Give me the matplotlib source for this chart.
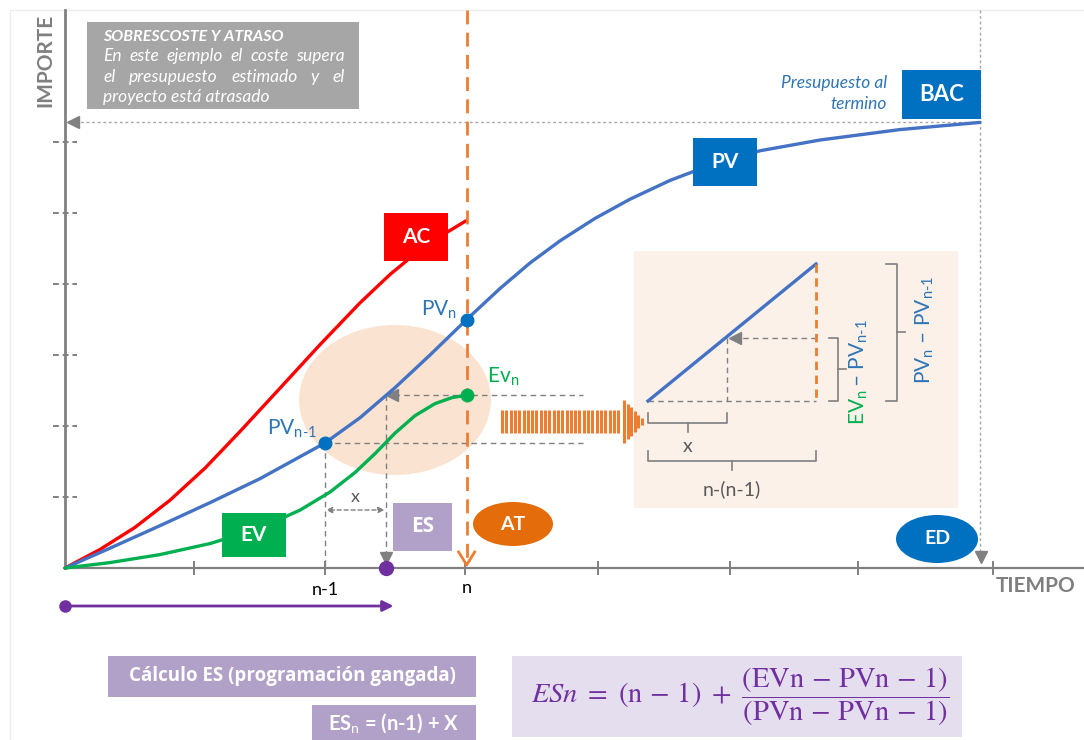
"""Earned schedule (ES) diagram: PV / EV / AC curves with the ES construction."""
import matplotlib

matplotlib.use("Agg")
import matplotlib.pyplot as plt
import numpy as np
from matplotlib.patches import Ellipse, Rectangle
from matplotlib.transforms import Affine2D

plt.rcParams["font.family"] = ["Lato", "DejaVu Sans"]
plt.rcParams["mathtext.fontset"] = "custom"
plt.rcParams["mathtext.rm"] = "Lato"
plt.rcParams["mathtext.it"] = "Lato:italic"
plt.rcParams["mathtext.bf"] = "Lato:bold"

# curves (time in periods, amount in tick units)
AC_T = [0, 0.263, 0.526, 0.789, 1.053, 1.316, 1.617, 1.917, 2.218, 2.444, 2.632,
        2.820, 3.015]
AC_V = [0, 0.261, 0.572, 0.954, 1.407, 1.923, 2.534, 3.145, 3.734, 4.135, 4.424,
        4.670, 4.890]
PV_T = [0, 0.338, 0.714, 1.090, 1.466, 1.955, 2.218, 2.481, 2.744, 3.020, 3.271,
        3.496, 3.722, 3.985, 4.248, 4.549, 4.850, 5.226, 5.677, 6.278, 6.880]
PV_V = [0, 0.279, 0.596, 0.920, 1.258, 1.761, 2.116, 2.539, 2.999, 3.500, 3.937,
        4.296, 4.608, 4.924, 5.194, 5.459, 5.673, 5.877, 6.028, 6.175, 6.276]
EV_T = [0, 0.338, 0.714, 1.090, 1.466, 1.767, 1.992, 2.180, 2.331, 2.481, 2.632,
        2.782, 2.910, 3.020]
EV_V = [0, 0.076, 0.189, 0.344, 0.562, 0.815, 1.069, 1.344, 1.611, 1.899, 2.146,
        2.315, 2.400, 2.435]

T_PREV, T_N, T_ES, T_END = 1.955, 3.02, 2.41, 6.88
PV_PREV, PV_N, EV_N, BAC = 1.761, 3.50, 2.435, 6.276
TIME_TICKS = [0.97, 1.955, 3.01, 4.01, 5.0, 5.96, 6.98]
VALUE_TICKS = [1, 2, 3, 4, 5, 6]

X0, Y0, SX, SY = 65, 568, 133, 71  # origin in pixels, pixels per unit

RED, BLUE, BLUE_LINE, GREEN = "#FF0000", "#0070C0", "#4472C4", "#00B050"
ORANGE, PURPLE, LILAC, GRAY = "#ED7D31", "#7030A0", "#B1A0C7", "#808080"
LBL_BLUE = "#2E75B6"
SUB_N1 = r"$_{\mathrm{n}\text{-}\mathrm{1}}$"


def px(t, v):
    return X0 + SX * t, Y0 - SY * v


def box(ax, x0, y0, x1, y1, fc, text=None, fs=15, z=6, **kw):
    ax.add_patch(Rectangle((x0, y0), x1 - x0, y1 - y0, fc=fc, ec="none", zorder=z))
    if text:
        ax.text((x0 + x1) / 2, (y0 + y1) / 2, text, color="white", fontsize=fs,
                fontweight="bold", ha="center", va="center", zorder=z + 1, **kw)


def dashed(ax, xs, ys, **kw):
    ax.plot(xs, ys, color=kw.pop("color", GRAY), lw=kw.pop("lw", 1),
            ls=(0, (4, 3)), zorder=kw.pop("zorder", 3), **kw)


def justify(ax, renderer, line, x0, x1, y, **kw):
    ts = [ax.text(x0, y, w, **kw) for w in line.split()]
    widths = [t.get_window_extent(renderer).width for t in ts]
    gap = (x1 - x0 - sum(widths)) / (len(ts) - 1)
    x = x0
    for t, w in zip(ts, widths):
        t.set_x(x)
        x += w + gap


fig = plt.figure(figsize=(10.84, 7.40), dpi=100)
ax = fig.add_axes([0, 0, 1, 1])
ax.set_xlim(0, 1084)
ax.set_ylim(740, 0)
ax.axis("off")
data = Affine2D().scale(SX, -SY).translate(X0, Y0) + ax.transData
renderer = fig.canvas.get_renderer()

# frame
ax.plot([10, 10, 1084], [740, 10, 10], color="#EDEDED", lw=1, zorder=0)

# background shapes
ax.add_patch(Rectangle((634, 251), 324, 257, fc="#FCF1E8", ec="none", zorder=1))
ax.add_patch(Ellipse((395, 400), 192, 150, fc="#FBE3D1", ec="none", zorder=1))

# axes
ax.plot([X0, X0], [10, Y0], color=GRAY, lw=2, zorder=4)
ax.plot([X0, 1084], [Y0, Y0], color=GRAY, lw=1.6, zorder=4)
for t in TIME_TICKS:
    x, _ = px(t, 0)
    ax.plot([x, x], [Y0 - 6, Y0 + 6], color=GRAY, lw=1.4, zorder=4)
for v in VALUE_TICKS:
    _, y = px(0, v)
    ax.plot([X0 - 12, X0 + 12], [y, y], color=GRAY, lw=1.4, ls=(0, (3, 2)), zorder=4)
ax.text(45, 60, "IMPORTE", rotation=90, color="#7F7F7F", fontsize=15,
        fontweight="bold", ha="center", va="center")
ax.text(1036, 586, "TIEMPO", color="#7F7F7F", fontsize=15, fontweight="bold",
        ha="center", va="center")

# BAC guide lines
x_end, y_bac = px(T_END, BAC)
ax.plot([x_end, x_end], [10, Y0 - 10], color="#A6A6A6", lw=1, ls=(0, (2, 2)), zorder=2)
ax.plot([x_end + 1], [Y0 - 11], marker="v", ms=9, color=GRAY, zorder=4)
ax.plot([X0 + 10, x_end], [y_bac, y_bac], color="#A6A6A6", lw=1, ls=(0, (2, 2)), zorder=2)
ax.plot([X0 + 8], [y_bac], marker="<", ms=9, color=GRAY, zorder=4)

# curves
for ts, vs, c in ((AC_T, AC_V, RED), (PV_T, PV_V, BLUE_LINE), (EV_T, EV_V, GREEN)):
    ax.plot(ts, vs, color=c, lw=2.4, transform=data, zorder=5,
            solid_joinstyle="round", solid_capstyle="round")

# ES construction
xp, yp = px(T_PREV, PV_PREV)
xn, ypn = px(T_N, PV_N)
_, yev = px(T_N, EV_N)
xes, _ = px(T_ES, 0)
dashed(ax, [xp, xp], [yp, Y0])
dashed(ax, [xp, 583], [yp, yp])
dashed(ax, [xes + 8, 583], [yev, yev])
ax.plot([xes + 6], [yev], marker="<", ms=9, color=GRAY, zorder=4)
dashed(ax, [xes, xes], [yev, Y0 - 14])
ax.plot([xes], [Y0 - 10], marker="v", ms=9, color=GRAY, zorder=4)
ax.annotate("", xy=(xp + 1, 510), xytext=(xes - 1, 510),
            arrowprops=dict(arrowstyle="<|-|>", color=GRAY, lw=1, ls=(0, (3, 2)),
                            mutation_scale=9, shrinkA=0, shrinkB=0), zorder=4)
ax.text((xp + xes) / 2, 497, "x", color="#595959", fontsize=13, ha="center", va="center")

# orange status-date line
ax.plot([xn, xn], [10, Y0 - 4], color=ORANGE, lw=2, ls=(0, (5, 3)), zorder=6)
ax.plot([xn - 8, xn, xn + 8], [Y0 - 16, Y0 - 3, Y0 - 16], color=ORANGE, lw=2, zorder=6)

# points
ax.plot([T_PREV, T_N], [PV_PREV, PV_N], "o", ms=9, color=BLUE, transform=data, zorder=7)
ax.plot([T_N], [EV_N], "o", ms=9, color=GREEN, transform=data, zorder=7)
ax.text(xn - 10, ypn - 10, r"PV$_{\mathrm{n}}$", color=LBL_BLUE, fontsize=15,
        ha="right", va="center", zorder=7)
ax.text(xn + 20, yev - 18, r"Ev$_{\mathrm{n}}$", color=GREEN, fontsize=15,
        ha="left", va="center", zorder=7)
ax.text(xp - 8, yp - 14, "PV" + SUB_N1, color=LBL_BLUE, fontsize=15,
        ha="right", va="center", zorder=7)
ax.plot([xes], [Y0], "o", ms=10, color=PURPLE, zorder=7)
ax.annotate("", xy=(xes + 8, 606), xytext=(X0, 606),
            arrowprops=dict(arrowstyle="-|>", color=PURPLE, lw=2, mutation_scale=16,
                            shrinkA=0, shrinkB=0))
ax.plot([X0], [606], "o", ms=8, color=PURPLE, zorder=7)

# label boxes
box(ax, 384, 213, 448, 261, RED, "AC")
box(ax, 222, 513, 286, 557, GREEN, "EV")
box(ax, 693, 138, 757, 186, BLUE, "PV")
box(ax, 902, 70, 981, 119, BLUE, "BAC", fs=16)
box(ax, 393, 503, 452, 551, LILAC, "ES", fontfamily="Open Sans")
ax.add_patch(Ellipse((513, 524), 80, 44, fc="#E46C0A", ec="none", zorder=6))
ax.text(513, 524, "AT", color="white", fontsize=14, fontweight="bold",
        ha="center", va="center", zorder=7)
ax.add_patch(Ellipse((937, 539), 82, 48, fc=BLUE, ec="none", zorder=6))
ax.text(937, 539, "ED", color="white", fontsize=14, fontweight="bold",
        ha="center", va="center", zorder=7)
ax.text(887, 83, "Presupuesto al", color=LBL_BLUE, fontsize=12.5, style="italic",
        ha="right", va="center")
ax.text(887, 104, "termino", color=LBL_BLUE, fontsize=12.5, style="italic",
        ha="right", va="center")

# grey note
box(ax, 87, 22, 359, 109, "#A6A6A6")
note = dict(color="white", fontsize=12.5, style="italic", va="center", zorder=7)
ax.text(103, 37, "SOBRESCOSTE Y ATRASO", color="white", fontsize=11.5,
        fontweight="bold", style="italic", va="center", zorder=7)
justify(ax, renderer, "En este ejemplo el coste supera", 103, 345, 56, **note)
justify(ax, renderer, "el presupuesto estimado y el", 103, 345, 77, **note)
ax.text(103, 97, "proyecto está atrasado", **note)

# striped arrow
ax.vlines(np.arange(502, 622, 4.3), 410, 433, color=ORANGE, lw=2.2, zorder=3)
for x in np.arange(624, 645, 3.6):
    h = 21.5 * (645 - x) / 21
    ax.vlines(x, 421.5 - h, 421.5 + h, color=ORANGE, lw=2.2, zorder=3)

# inset triangle
ax.plot([648, 816], [401, 264], color=BLUE_LINE, lw=2.4, zorder=4)
ax.plot([816, 816], [264, 401], color=ORANGE, lw=2, ls=(0, (3, 2)), zorder=4)
dashed(ax, [648, 816], [401, 401])
dashed(ax, [733, 816], [338, 338])
ax.plot([735], [338], marker="<", ms=9, color=GRAY, zorder=5)
dashed(ax, [727, 727], [338, 401])
bc = "#7F7F7F"
ax.plot([648, 648, 727, 727], [413, 423, 423, 413], color=bc, lw=1.2, zorder=4)
ax.plot([688, 688], [423, 432], color=bc, lw=1.2, zorder=4)
ax.text(688, 447, "x", color="#595959", fontsize=14, ha="center", va="center")
ax.plot([648, 648, 816, 816], [451, 461, 461, 451], color=bc, lw=1.2, zorder=4)
ax.plot([732, 732], [461, 470], color=bc, lw=1.2, zorder=4)
ax.text(732, 489, "n-(n-1)", color="#595959", fontsize=14, ha="center", va="center")
ax.plot([829, 838, 838, 829], [338, 338, 401, 401], color=bc, lw=1.2, zorder=4)
ax.plot([838, 846], [369, 369], color=bc, lw=1.2, zorder=4)
ax.plot([886, 897, 897, 886], [264, 264, 401, 401], color=bc, lw=1.2, zorder=4)
ax.plot([897, 905], [332, 332], color=bc, lw=1.2, zorder=4)
ax.text(859, 425, r"EV$_{\mathrm{n}}$", color=GREEN, fontsize=15, rotation=90,
        rotation_mode="anchor", ha="left", va="center", zorder=5)
ax.text(859, 392, " – PV" + SUB_N1, color=LBL_BLUE, fontsize=15, rotation=90,
        rotation_mode="anchor", ha="left", va="center", zorder=5)
ax.text(925, 384, r"PV$_{\mathrm{n}}$ – PV" + SUB_N1, color=LBL_BLUE, fontsize=15,
        rotation=90, rotation_mode="anchor", ha="left", va="center", zorder=5)

# formulas
box(ax, 108, 656, 476, 697, LILAC, "Cálculo ES (programación gangada)", fs=13.5,
    fontfamily="Open Sans", fontstretch="condensed")
box(ax, 312, 705, 476, 742, LILAC, r"ES$_{\mathrm{n}}$ = (n-1) + X", fs=14.5)
box(ax, 512, 656, 962, 737, "#E5DEEE")
ax.text(740, 697,
        r"$ESn\ =\ (\mathrm{n}\,-\,1)\ +\ \dfrac{(\mathrm{EVn}\,-\,\mathrm{PVn}\,-\,1)}"
        r"{(\mathrm{PVn}\,-\,\mathrm{PVn}\,-\,1)}$",
        color=PURPLE, fontsize=20.5, ha="center", va="center", math_fontfamily="stix",
        zorder=8)

# time labels
ax.text(xp, 590, "n-1", color="black", fontsize=13, ha="center", va="center")
ax.text(xn, 588, "n", color="black", fontsize=13, ha="center", va="center")

fig.savefig("out.png", dpi=100)
